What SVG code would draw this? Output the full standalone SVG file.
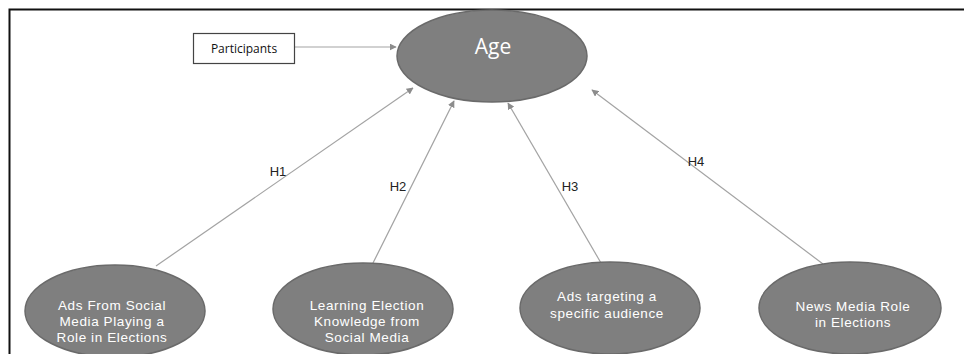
<svg xmlns="http://www.w3.org/2000/svg" width="964" height="354" viewBox="0 0 964 354">
<defs>
<marker id="ah" viewBox="0 0 10 10" refX="9" refY="5" markerWidth="7" markerHeight="7" markerUnits="userSpaceOnUse" orient="auto">
<path d="M0,0 L10,5 L0,10 Z" fill="#8c8c8c"/>
</marker>
<style>
.ell{fill:#7f7f7f;stroke:#6a6a6a;stroke-width:1.5}
.wt{font-family:"Liberation Sans",Arial,sans-serif;fill:#ffffff;font-size:13.5px;letter-spacing:0.6px;text-anchor:middle}
.con{stroke:#a3a3a3;stroke-width:1.2;fill:none;marker-end:url(#ah)}
.lbl{font-family:"Liberation Sans",Arial,sans-serif;font-size:13px;fill:#222;text-anchor:middle}
</style>
</defs>
<rect width="964" height="354" fill="#ffffff"/>
<path d="M9.5,360 V9.5 H970" fill="none" stroke="#111" stroke-width="2"/>
<g id="connectors">
<line class="con" x1="294" y1="47" x2="396" y2="47"/>
<line class="con" x1="156" y1="266" x2="413" y2="88"/>
<line class="con" x1="373" y1="263" x2="454" y2="101"/>
<line class="con" x1="601" y1="263" x2="508" y2="103"/>
<line class="con" x1="823" y1="264" x2="592" y2="90"/>
<text class="lbl" x="278" y="176">H1</text>
<text class="lbl" x="398" y="191">H2</text>
<text class="lbl" x="570" y="191">H3</text>
<text class="lbl" x="696" y="166">H4</text>
</g>
<g id="participants">
<rect x="193.5" y="33.5" width="101" height="30" fill="#fff" stroke="#444" stroke-width="1.2"/>
<text x="244" y="52.5" font-family="Open Sans, Liberation Sans, sans-serif" font-size="12" fill="#111" text-anchor="middle">Participants</text>
</g>
<g id="age">
<ellipse class="ell" cx="492" cy="56" rx="95" ry="46"/>
<text x="493" y="54" font-family="Open Sans, Liberation Sans, sans-serif" font-size="21" fill="#fff" text-anchor="middle">Age</text>
</g>
<g id="n1">
<ellipse class="ell" cx="115" cy="311" rx="90" ry="46"/>
<text class="wt" x="112" y="310">Ads From Social</text>
<text class="wt" x="112" y="326">Media Playing a</text>
<text class="wt" x="112" y="342">Role in Elections</text>
</g>
<g id="n2">
<ellipse class="ell" cx="363" cy="309" rx="90" ry="46"/>
<text class="wt" x="367" y="310">Learning Election</text>
<text class="wt" x="367" y="326">Knowledge from</text>
<text class="wt" x="367" y="342">Social Media</text>
</g>
<g id="n3">
<ellipse class="ell" cx="610" cy="308" rx="90" ry="46"/>
<text class="wt" x="607" y="301">Ads targeting a</text>
<text class="wt" x="607" y="318">specific audience</text>
</g>
<g id="n4">
<ellipse class="ell" cx="850" cy="308" rx="91" ry="46"/>
<text class="wt" x="853" y="311">News Media Role</text>
<text class="wt" x="853" y="327">in Elections</text>
</g>
</svg>
